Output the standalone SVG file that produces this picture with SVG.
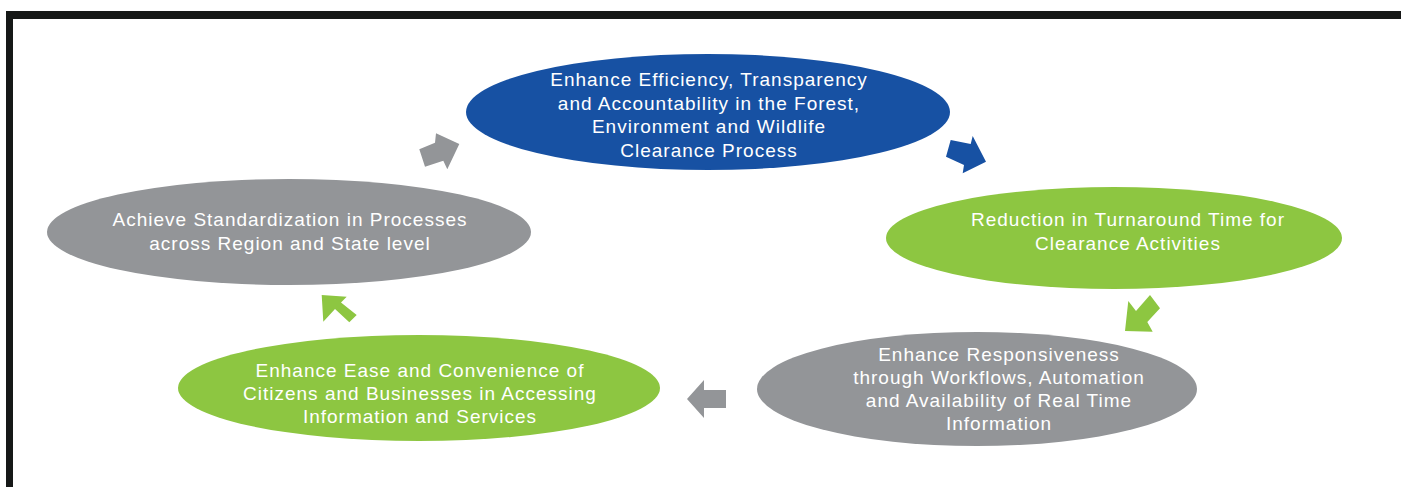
<svg xmlns="http://www.w3.org/2000/svg" width="1401" height="487" viewBox="0 0 1401 487">
<defs>
<style>
.lbl{font-family:"Liberation Sans",Arial,sans-serif;font-size:19px;letter-spacing:1px;fill:#ffffff;text-anchor:middle}
.blue{fill:#1751a3}
.green{fill:#8dc641}
.gray{fill:#939598}
</style>
</defs>
<rect x="0" y="0" width="1401" height="487" fill="#ffffff"/>
<rect x="6" y="11" width="1395" height="8" fill="#161817"/>
<rect x="6" y="11" width="7" height="476" fill="#161817"/>

<g id="node-efficiency">
<ellipse class="blue" cx="708" cy="112" rx="242" ry="58"/>
<text class="lbl" x="709" y="86">Enhance Efficiency, Transparency</text>
<text class="lbl" x="709" y="109.5">and Accountability in the Forest,</text>
<text class="lbl" x="709" y="133">Environment and Wildlife</text>
<text class="lbl" x="709" y="156.5">Clearance Process</text>
</g>

<g id="node-turnaround">
<ellipse class="green" cx="1114" cy="238" rx="228" ry="51"/>
<text class="lbl" x="1128" y="226">Reduction in Turnaround Time for</text>
<text class="lbl" x="1128" y="249.5">Clearance Activities</text>
</g>

<g id="node-responsiveness">
<ellipse class="gray" cx="977" cy="389" rx="220" ry="57"/>
<text class="lbl" x="999" y="360.5">Enhance Responsiveness</text>
<text class="lbl" x="999" y="383.5">through Workflows, Automation</text>
<text class="lbl" x="999" y="406.5">and Availability of Real Time</text>
<text class="lbl" x="999" y="429.5">Information</text>
</g>

<g id="node-ease">
<ellipse class="green" cx="419" cy="388" rx="241" ry="53"/>
<text class="lbl" x="420" y="377">Enhance Ease and Convenience of</text>
<text class="lbl" x="420" y="400">Citizens and Businesses in Accessing</text>
<text class="lbl" x="420" y="423">Information and Services</text>
</g>

<g id="node-standardization">
<ellipse class="gray" cx="289" cy="232" rx="242" ry="53"/>
<text class="lbl" x="290" y="225.5">Achieve Standardization in Processes</text>
<text class="lbl" x="290" y="249.5">across Region and State level</text>
</g>

<g id="connectors">
<polygon class="blue" points="950.7,140 970.7,144 972.7,136 986,161.7 962.7,173.3 964,165 946,156.7"/>
<polygon class="green" points="1150,295 1160,308.3 1147.3,322 1152.7,331.7 1125,331 1128.3,301 1136,311"/>
<polygon class="gray" points="687,399 704,380 704,390 726,390 726,408 704,408 704,418"/>
<polygon class="green" points="321.7,295 346.7,296.7 341,302.5 356.7,315 349.3,322.3 335,309 323.3,321.7"/>
<polygon class="gray" points="419.3,149.3 435,142.7 436,133.3 459.3,144 447.3,169.3 443.3,160.7 425,166.7"/>
</g>
</svg>
